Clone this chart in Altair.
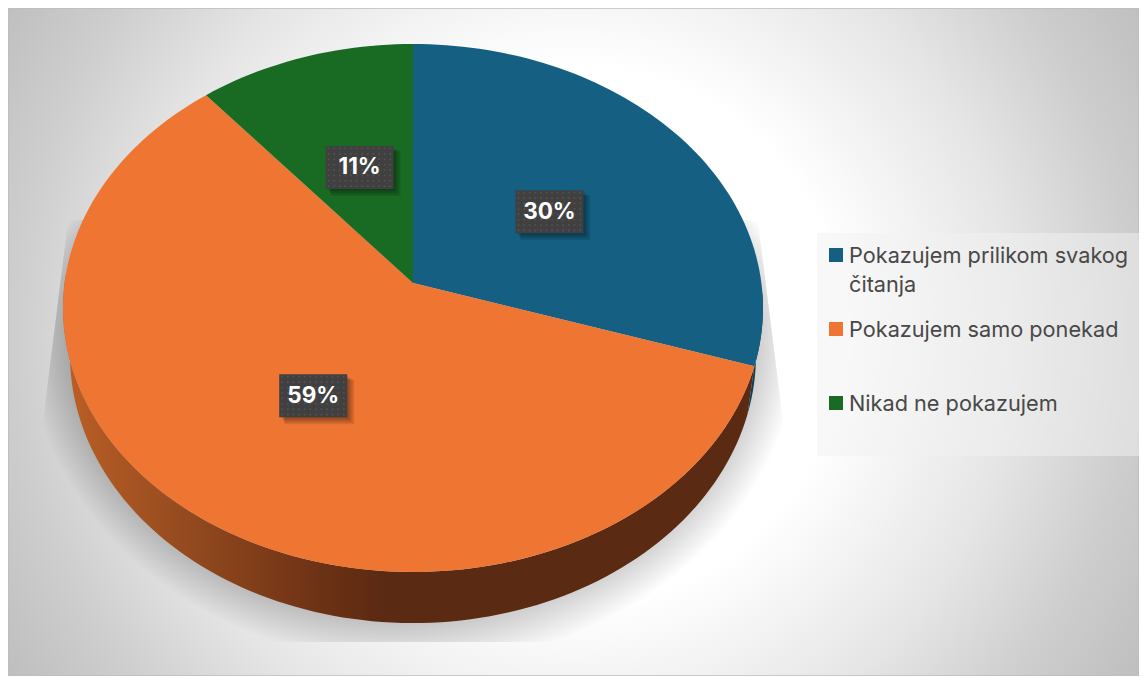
import math
import altair as alt
import pandas as pd

# ---- chart values ----
categories = ["Pokazujem prilikom svakog\nčitanja", "Pokazujem samo ponekad", "Nikad ne pokazujem"]
values = [30, 59, 11]
value_labels = ["30%", "59%", "11%"]
colors = ["#156082", "#EF7533", "#196B24"]

# ---- layout (pixel frame of the page) ----
X0, X1, Y0, Y1 = 8, 1139, 8, 676
CX = 413
TOP_Y, TOP_H, TOP_K, TOP_R = 283, 261.6, 0.0947, 348.4
LOW_Y, LOW_H, LOW_K, LOW_R = 330, 265.7, 0.0933, 341.5
LABEL_F = 0.49
LABEL_DX = [2, 0, 2]
LABEL_DY = [2, 2.5, 0]
LABEL_W, LABEL_H = 68, 43
LEG_BOX = (817, 1139, 233, 456)
LEG_SYM_X, LEG_TXT_X = 836, 849
LEG_YS = [255, 329, 403]

xs = alt.Scale(domain=[X0, X1], range=[0, X1 - X0], nice=False, zero=False)
ys = alt.Scale(domain=[Y0, Y1], range=[0, Y1 - Y0], nice=False, zero=False)
X = lambda f="x": alt.X(f"{f}:Q", scale=xs, axis=None)
Y = lambda f="y": alt.Y(f"{f}:Q", scale=ys, axis=None)


def proj(deg, f=1.0, base="top"):
    """Perspective view of a point on the pie disc, clockwise from 12 o'clock."""
    y0, h, k, r = (TOP_Y, TOP_H, TOP_K, TOP_R) if base == "top" else (LOW_Y, LOW_H, LOW_K, LOW_R)
    u, v = math.sin(math.radians(deg)) * f, math.cos(math.radians(deg)) * f
    d = 1 + k * v
    return CX + r * u / d, y0 - h * v / d


def arc(a, b, base="top"):
    n = max(2, int(abs(b - a) / 1.5))
    return [proj(a + (b - a) * i / n, 1.0, base) for i in range(n + 1)]


# slice angles come from the values
total = sum(values)
edges = [0]
for val in values:
    edges.append(edges[-1] + val / total * 360)

top_rows = []
for c, a, b in zip(categories, edges[:-1], edges[1:]):
    pts = [(CX, TOP_Y)] + arc(a, b) + [(CX, TOP_Y)]
    top_rows += [{"cat": c, "i": i, "x": p[0], "y": p[1]} for i, p in enumerate(pts)]


def wall(a, b):
    pts = arc(a, b, "top") + arc(b, a, "low")
    return [{"i": i, "x": p[0], "y": p[1]} for i, p in enumerate(pts)]


# soft shadow under the disc
shadow_rows = []
for ring in range(16):
    d = 2 + ring * 2.6
    for i in range(241):
        t = math.radians(i * 1.5)
        c_t = math.cos(t)
        y = 330 - (218 + 0.5 * d) * c_t if c_t > 0 else 330 - (293 + d) * c_t
        x = CX + (345 + d) * math.sin(t)
        y = max(220, min(642, y))
        dx = (y - 220) * 0.125
        x = max(68 - dx, min(758 + dx, x))
        shadow_rows.append({"ring": ring, "i": i, "x": x, "y": y})

bg = alt.Chart(pd.DataFrame([{"x": X0, "x2": X1, "y": Y0, "y2": Y1}])).mark_rect(
    fill=alt.RadialGradient(
        gradient="radial", x1=0.5, y1=0.494, x2=0.5, y2=0.494, r1=0, r2=0.58,
        stops=[
            alt.GradientStop(color="#ffffff", offset=0),
            alt.GradientStop(color="#ffffff", offset=0.41),
            alt.GradientStop(color="#e6e6e6", offset=0.667),
            alt.GradientStop(color="#cecece", offset=0.85),
            alt.GradientStop(color="#bfbfbf", offset=1),
        ],
    ),
    stroke="#bdbdbd", strokeWidth=1.5,
).encode(x=X(), x2="x2:Q", y=Y(), y2="y2:Q")

shadow = alt.Chart(pd.DataFrame(shadow_rows)).mark_line(
    filled=True, color="#000000", opacity=0.013
).encode(x=X(), y=Y(), detail="ring:N", order="i:Q")

wall_blue = alt.Chart(pd.DataFrame(wall(92, edges[1]))).mark_line(
    filled=True, color="#0E3F56"
).encode(x=X(), y=Y(), order="i:Q")

wall_orange = alt.Chart(pd.DataFrame(wall(edges[1], 272))).mark_line(
    filled=True,
    fill=alt.LinearGradient(
        gradient="linear", x1=0, x2=1, y1=0, y2=0,
        stops=[
            alt.GradientStop(color="#BC5F26", offset=0),
            alt.GradientStop(color="#9A4E20", offset=0.15),
            alt.GradientStop(color="#6F3315", offset=0.36),
            alt.GradientStop(color="#5B2A12", offset=0.46),
            alt.GradientStop(color="#5B2A12", offset=1),
        ],
    ),
).encode(x=X(), y=Y(), order="i:Q")

pie = alt.Chart(pd.DataFrame(top_rows)).mark_line(filled=True).encode(
    x=X(), y=Y(), order="i:Q",
    color=alt.Color("cat:N", scale=alt.Scale(domain=categories, range=colors), legend=None),
)

# data labels
label_rows, shadow_rect_rows, dot_rows = [], [], []
for k, (txt, a, b) in enumerate(zip(value_labels, edges[:-1], edges[1:])):
    lx, ly = proj((a + b) / 2, LABEL_F)
    lx += LABEL_DX[k]
    ly += LABEL_DY[k]
    label_rows.append({"t": txt, "x": lx, "y": ly, "x0": lx - LABEL_W / 2, "x1": lx + LABEL_W / 2,
                       "y0": ly - LABEL_H / 2, "y1": ly + LABEL_H / 2})
    for s in range(5):
        o = 1 + s * 1.5
        shadow_rect_rows.append({"x0": lx - LABEL_W / 2 + 2 + o / 2, "x1": lx + LABEL_W / 2 + o,
                                 "y0": ly - LABEL_H / 2 + 2 + o / 2, "y1": ly + LABEL_H / 2 + o})
    for ix in range(12):
        for iy in range(8):
            dot_rows.append({"x": lx - LABEL_W / 2 + 3 + ix * 5.6, "y": ly - LABEL_H / 2 + 2.5 + iy * 5.4})

label_shadow = alt.Chart(pd.DataFrame(shadow_rect_rows)).mark_rect(color="#000000", opacity=0.09).encode(
    x=X("x0"), x2="x1:Q", y=Y("y0"), y2="y1:Q")
label_box = alt.Chart(pd.DataFrame(label_rows)).mark_rect(color="#404040").encode(
    x=X("x0"), x2="x1:Q", y=Y("y0"), y2="y1:Q")
label_dots = alt.Chart(pd.DataFrame(dot_rows)).mark_square(size=3, color="#525252", opacity=1).encode(x=X(), y=Y())
label_text = alt.Chart(pd.DataFrame(label_rows)).mark_text(
    font="Inter", fontSize=22.5, fontWeight="bold", color="#ffffff", align="center", baseline="middle"
).encode(x=X(), y=Y(), text="t:N")

# legend
leg_box = alt.Chart(pd.DataFrame([{"x": LEG_BOX[0], "x2": LEG_BOX[1], "y": LEG_BOX[2], "y2": LEG_BOX[3]}])).mark_rect(
    color="#f2f2f2", opacity=0.5
).encode(x=X(), x2="x2:Q", y=Y(), y2="y2:Q")
leg_df = pd.DataFrame({"cat": categories, "y": LEG_YS, "sx": LEG_SYM_X, "tx": LEG_TXT_X,
                       "base": [v + 7.5 for v in LEG_YS]})
leg_sym = alt.Chart(leg_df).mark_square(size=196, opacity=1).encode(
    x=X("sx"), y=Y(),
    color=alt.Color("cat:N", scale=alt.Scale(domain=categories, range=colors), legend=None),
)
leg_txt = alt.Chart(leg_df).mark_text(
    font="Inter", fontSize=21.7, color="#484848", align="left", baseline="alphabetic",
    lineBreak="\n", lineHeight=29,
).encode(x=X("tx"), y=Y("base"), text="cat:N")

chart = alt.layer(
    bg, shadow, wall_blue, wall_orange, pie, label_shadow, label_box, label_dots, label_text,
    leg_box, leg_sym, leg_txt,
).properties(
    width=X1 - X0, height=Y1 - Y0, padding=0, autosize=alt.AutoSizeParams(type="none"),
    background="#ffffff",
).configure_view(stroke=None)

chart.save("out.html", embed_options={"renderer": "svg", "actions": False})
